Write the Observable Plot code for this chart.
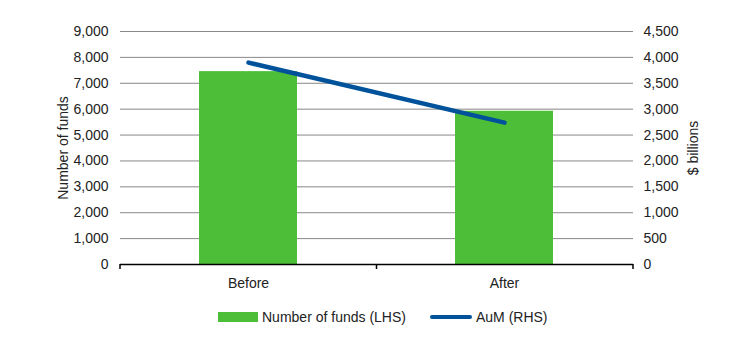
<!DOCTYPE html>
<html>
<head>
<meta charset="utf-8">
<script src="https://cdn.jsdelivr.net/npm/d3@7"></script>
<script src="https://cdn.jsdelivr.net/npm/@observablehq/plot@0.6"></script>
<style>
  html, body { margin: 0; padding: 0; background: #fff; }
  #chart { position: relative; width: 729px; height: 355px; font-family: "Liberation Sans", Arial, sans-serif; }
  #legend { position: absolute; top: 309px; left: 218px; display: flex; gap: 24px; font-size: 14px; color: #222; }
  .item { display: flex; align-items: center; gap: 4px; }
  .swatch-bar { width: 40px; height: 10px; background: #4dbe38; }
  .swatch-line { width: 42px; height: 4px; border-radius: 2px; background: #00539b; }
</style>
</head>
<body>
<div id="chart"></div>
<script>
const categories = ["Before", "After"];
const numberOfFunds = [7450, 5920];
const aum = [3900, 2740];
const leftTicks = [0, 1000, 2000, 3000, 4000, 5000, 6000, 7000, 8000, 9000];
const rightTicks = [0, 500, 1000, 1500, 2000, 2500, 3000, 3500, 4000, 4500];

const ratio = 9000 / 4500;
const data = categories.map((c, i) => ({cat: c, funds: numberOfFunds[i], aum: aum[i]}));
const fmt = d3.format(",");

// small tick marks at the category boundaries along the baseline
function bandBoundaryTicks() {
  return Plot.ruleY([0], {
    render(index, scales, values, dims) {
      const left = dims.marginLeft;
      const right = dims.width - dims.marginRight;
      const n = categories.length;
      const bounds = d3.range(n + 1).map(k => left + k * (right - left) / n);
      const y0 = scales.y(0);
      const g = d3.create("svg:g");
      g.selectAll("line").data(bounds).join("line")
        .attr("x1", d => d).attr("x2", d => d)
        .attr("y1", y0).attr("y2", y0 + 5)
        .attr("stroke", "#000").attr("stroke-width", 1.5);
      return g.node();
    }
  });
}

const plot = Plot.plot({
  width: 729,
  height: 300,
  marginTop: 31,
  marginBottom: 36,
  marginLeft: 120,
  marginRight: 96,
  style: {fontFamily: "'Liberation Sans', Arial, sans-serif", fontSize: "14px", color: "#222", background: "#fff"},
  x: {domain: categories, paddingInner: 0.617, paddingOuter: 0.3085, label: null},
  y: {domain: [0, 9000], label: null},
  marks: [
    Plot.gridY(leftTicks.filter(d => d > 0), {stroke: "#888", strokeOpacity: 1, strokeWidth: 1}),
    Plot.barY(data, {x: "cat", y: "funds", fill: "#4dbe38"}),
    Plot.ruleY([0], {stroke: "#000", strokeWidth: 1.5}),
    bandBoundaryTicks(),
    Plot.line(data, {x: "cat", y: d => d.aum * ratio, stroke: "#00539b", strokeWidth: 4.5, strokeLinecap: "round"}),
    Plot.axisX({tickSize: 0, tickPadding: 14, fontSize: 14}),
    Plot.axisY(leftTicks, {anchor: "left", tickSize: 0, tickPadding: 12, tickFormat: fmt, fontSize: 14, label: "Number of funds", labelAnchor: "center", labelOffset: 62, labelArrow: "none"}),
    Plot.axisY(rightTicks.map(d => d * ratio), {anchor: "right", tickSize: 0, tickPadding: 10, fontSize: 14, tickFormat: d => fmt(d / ratio), label: "$ billions", labelAnchor: "center", labelOffset: 64, labelArrow: "none"})
  ]
});
document.getElementById("chart").appendChild(plot);

const legend = document.createElement("div");
legend.id = "legend";
legend.innerHTML = `<div class="item"><div class="swatch-bar"></div><span>Number of funds (LHS)</span></div>
<div class="item"><div class="swatch-line"></div><span>AuM (RHS)</span></div>`;
document.getElementById("chart").appendChild(legend);
</script>
</body>
</html>
